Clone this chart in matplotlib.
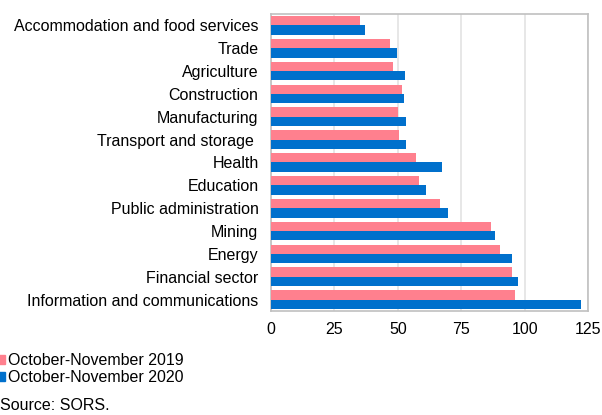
import matplotlib.pyplot as plt
from matplotlib.patches import Patch
import numpy as np

plt.rcParams['font.family'] = ['Liberation Sans', 'DejaVu Sans']

# sectors, top to bottom
sectors = [
    "Accommodation and food services", "Trade", "Agriculture", "Construction",
    "Manufacturing", "Transport and storage ", "Health", "Education",
    "Public administration", "Mining", "Energy", "Financial sector",
    "Information and communications",
]
oct_nov_2019 = [35.0, 46.8, 48.3, 51.6, 50.1, 50.3, 57.2, 58.5, 66.7, 86.8, 90.2, 94.9, 96.2]
oct_nov_2020 = [37.0, 49.8, 52.7, 52.6, 53.4, 53.1, 67.5, 61.1, 69.8, 88.4, 95.1, 97.5, 122.4]
xticks = [0, 25, 50, 75, 100, 125]

pink = '#ff808e'
blue = '#0070cc'
fs = 11.5

fig = plt.figure(figsize=(6.02, 4.15), dpi=100)
ax = fig.add_axes([271 / 602, 1 - 311 / 415, 317 / 602, 297 / 415])

y = np.arange(len(sectors))
h = 0.41
ax.barh(y - h / 2, oct_nov_2019, height=h, color=pink, zorder=3)
ax.barh(y + h / 2, oct_nov_2020, height=h, color=blue, zorder=3)

ax.set_xlim(0, 125)
ax.set_ylim(len(sectors) - 0.5, -0.5)
ax.set_xticks(xticks)
ax.set_yticks(y)
ax.set_yticklabels(sectors)
ax.tick_params(length=0, labelsize=fs, colors='black')
ax.tick_params(axis='x', pad=8)
ax.tick_params(axis='y', pad=9)
ax.grid(axis='x', color='#e3e3e3', linewidth=1.2, zorder=0)
for s in ax.spines.values():
    s.set_color('#c0c0c0')
    s.set_linewidth(1.2)

handles = [Patch(color=pink), Patch(color=blue)]
fig.legend(handles, ["October-November 2019", "October-November 2020"],
           loc='upper left', bbox_to_anchor=(-0.004, 1 - 353 / 415),
           frameon=False, fontsize=fs, handlelength=0.45, handleheight=0.45,
           handletextpad=0.2, labelspacing=0.15, borderpad=0, borderaxespad=0)

# source note, kept fully inside the figure
fig.text(0.0, 0.004, "Source: SORS.", fontsize=fs, va='bottom', ha='left')

fig.savefig('out.png', dpi=100)
